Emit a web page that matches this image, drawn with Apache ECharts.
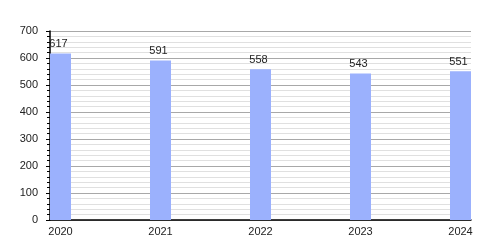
<!DOCTYPE html>
<html><head><meta charset="utf-8">
<script src="https://cdn.jsdelivr.net/npm/echarts@6/dist/echarts.min.js"></script>
<style>html,body{margin:0;padding:0;background:#fff}#c{width:500px;height:250px}</style>
</head><body><div id="c"></div>
<script>
var years = ['2020','2021','2022','2023','2024'];
var values = [617, 591, 558, 543, 551];
var yTicks = [0,100,200,300,400,500,600,700];

var chart = echarts.init(document.getElementById('c'), null, {renderer:'canvas'});
var font = 'Liberation Sans, Arial, sans-serif';
chart.setOption({
  animation:false,
  grid:{left:50, right:29, top:31, bottom:30},
  xAxis:{
    type:'value', min:-0.105, max:4.105,
    axisLine:{show:true, onZero:false, lineStyle:{color:'#000', width:1.5}},
    axisTick:{show:false},
    splitLine:{show:false},
    axisLabel:{customValues:years.map(function(y,i){return i;}), formatter:function(v){return years[Math.round(v)];},
      color:'#222', fontFamily:font, fontSize:11, margin:6, showMinLabel:true, showMaxLabel:true}
  },
  yAxis:{
    type:'value', min:0, max:700, interval:100,
    axisLine:{show:true, onZero:false, lineStyle:{color:'#000', width:1.5}},
    axisTick:{show:true, length:4, lineStyle:{color:'#000'}},
    minorTick:{show:true, splitNumber:5, length:3, lineStyle:{color:'#000'}},
    splitLine:{show:true, lineStyle:{color:'#a8a8a8', width:1}},
    minorSplitLine:{show:true, lineStyle:{color:'#e0e0e0', width:1}},
    axisLabel:{color:'#222', fontFamily:font, fontSize:11, margin:12,
      formatter:function(v){return yTicks.indexOf(v)>=0? String(v):'';}}
  },
  series:[{
    type:'bar', barWidth:21,
    data: values.map(function(v,i){return [i,v];}),
    itemStyle:{color:'#9bb1fd'},
    label:{show:true, position:'top', distance:4, offset:[-2,0], color:'#222', fontFamily:font, fontSize:11,
      formatter:function(p){return p.value[1];}}
  }]
});
</script></body></html>
